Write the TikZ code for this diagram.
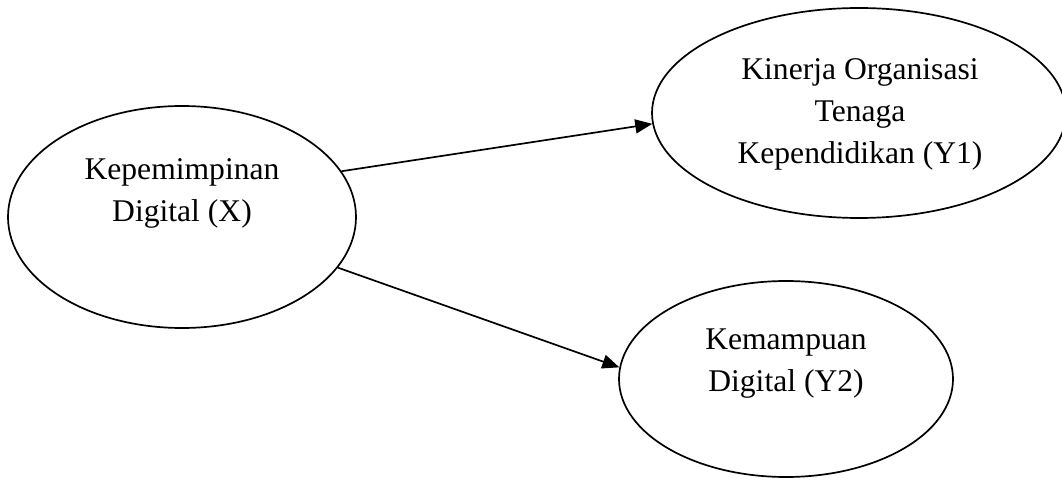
\documentclass[tikz,border=0pt]{standalone}
\usepackage{fontspec}
\setmainfont{Liberation Serif}
\usetikzlibrary{shapes.geometric,arrows.meta}
\begin{document}
\begin{tikzpicture}[x=1pt,y=-1pt,
  oval/.style={draw,ellipse,line width=1.7pt,inner sep=0pt},
  lbl/.style={align=center,inner sep=0pt,font=\fontsize{31.6}{42}\selectfont},
  conn/.style={line width=1.7pt,-{Triangle[length=17pt,width=14pt]}}]
\useasboundingbox (0,0) rectangle (1062,478);
\node[oval,minimum width=348pt,minimum height=222pt] (X) at (182,217) {};
\node[oval,minimum width=414pt,minimum height=210pt] (Y1) at (859,113) {};
\node[oval,minimum width=334pt,minimum height=196pt] (Y2) at (786,379) {};
\node[lbl] (tX) at (182,193) {Kepemimpinan\\Digital (X)};
\node[lbl] (tY1) at (860,114) {Kinerja Organisasi\\Tenaga\\Kependidikan (Y1)};
\node[lbl] (tY2) at (786,363.5) {Kemampuan\\Digital (Y2)};
\draw[conn] (X.16.6) -- (Y1.183.3);
\draw[conn] (X.-18.9) -- (Y2.176.9);
\end{tikzpicture}
\end{document}
